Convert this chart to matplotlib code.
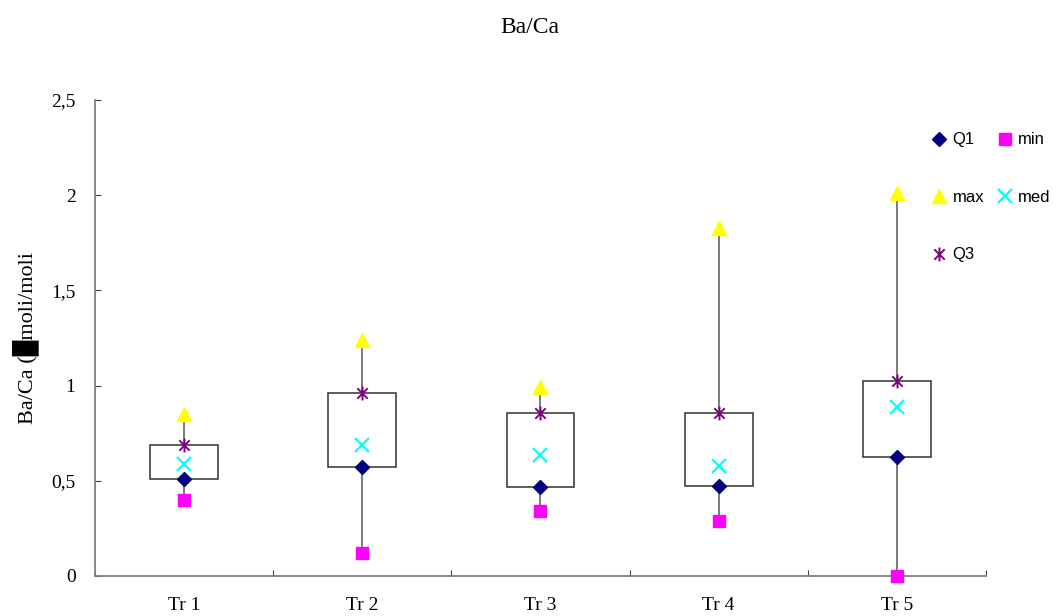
import numpy as np
import matplotlib
matplotlib.use('Agg')
import matplotlib.pyplot as plt
from matplotlib.path import Path
from matplotlib.lines import Line2D
from matplotlib.patches import Rectangle

cats = ['Tr 1', 'Tr 2', 'Tr 3', 'Tr 4', 'Tr 5']
q1 = [0.51, 0.57, 0.465, 0.47, 0.625]
mins = [0.40, 0.12, 0.34, 0.29, 0.0]
maxs = [0.85, 1.24, 0.99, 1.83, 2.01]
meds = [0.59, 0.69, 0.635, 0.575, 0.89]
q3 = [0.69, 0.96, 0.855, 0.855, 1.025]

serif = ['Liberation Serif', 'DejaVu Serif', 'DejaVu Sans']
plt.rcParams['font.family'] = serif

# excel-like star marker: vertical bar plus an x
star = Path([(0, -1), (0, 1), (-0.75, -0.75), (0.75, 0.75), (-0.75, 0.75), (0.75, -0.75)],
            [Path.MOVETO, Path.LINETO, Path.MOVETO, Path.LINETO, Path.MOVETO, Path.LINETO])

fig = plt.figure(figsize=(10.59, 6.16), dpi=100)
ax = fig.add_axes([0.0897, 0.065, 0.8413, 0.7727])

x = np.arange(len(cats))
bw = 0.19
ax.vlines(x, mins, maxs, color='#707070', lw=1.3, zorder=1)
for i in x:
    ax.add_patch(Rectangle((i - bw, q1[i]), 2 * bw, q3[i] - q1[i], facecolor='white',
                           edgecolor='#303030', lw=1.1, zorder=2))

ax.plot(x, q1, ls='none', marker='D', ms=7, color='#000080', zorder=3, clip_on=False)
ax.plot(x, mins, ls='none', marker='s', ms=8, color='#ff00ff', zorder=3, clip_on=False)
ax.plot(x, maxs, ls='none', marker='^', ms=10, color='#ffff00', zorder=3, clip_on=False)
ax.plot(x, meds, ls='none', marker='x', ms=10, mew=1.6, color='#00ffff', zorder=3)
ax.plot(x, q3, ls='none', marker=star, ms=10, mew=1.4, color='#800080', zorder=3)

ax.set_xlim(-0.5, 4.5)
ax.set_ylim(0, 2.5)
ax.set_yticks([0, 0.5, 1, 1.5, 2, 2.5])
ax.set_yticklabels(['0', '0,5', '1', '1,5', '2', '2,5'])
ax.set_xticks(np.arange(-0.5, 5, 1))
ax.set_xticklabels([])
ax.set_xticks(x, minor=True)
ax.set_xticklabels(cats, minor=True)
ax.tick_params(axis='x', which='major', direction='in', length=4, color='#404040')
ax.tick_params(axis='x', which='minor', length=0, pad=15, labelsize=14)
ax.tick_params(axis='y', direction='in', length=4, color='#404040', pad=14, labelsize=14)
for s in ['top', 'right']:
    ax.spines[s].set_visible(False)
for s in ['left', 'bottom']:
    ax.spines[s].set_color('#808080')
    ax.spines[s].set_linewidth(1.3)

ax.set_ylabel('Ba/Ca (\u2588moli/moli', fontsize=16, labelpad=9)
fig.suptitle('Ba/Ca', fontsize=17, y=0.972)

handles = [
    Line2D([], [], ls='none', marker='D', ms=7, color='#000080'),
    Line2D([], [], ls='none', marker='^', ms=10, color='#ffff00'),
    Line2D([], [], ls='none', marker=star, ms=10, mew=1.4, color='#800080'),
    Line2D([], [], ls='none', marker='s', ms=8, color='#ff00ff'),
    Line2D([], [], ls='none', marker='x', ms=10, mew=1.6, color='#00ffff'),
]
labels = ['Q1', 'max', 'Q3', 'min', 'med']
fig.legend(handles, labels, ncol=2, loc='upper left', bbox_to_anchor=(0.879, 0.785),
           frameon=False, prop={'family': 'Liberation Sans', 'size': 12},
           handlelength=1.0, handletextpad=0.3, columnspacing=0.75, labelspacing=2.55,
           borderpad=0, borderaxespad=0)

fig.savefig('out.png', dpi=100)
